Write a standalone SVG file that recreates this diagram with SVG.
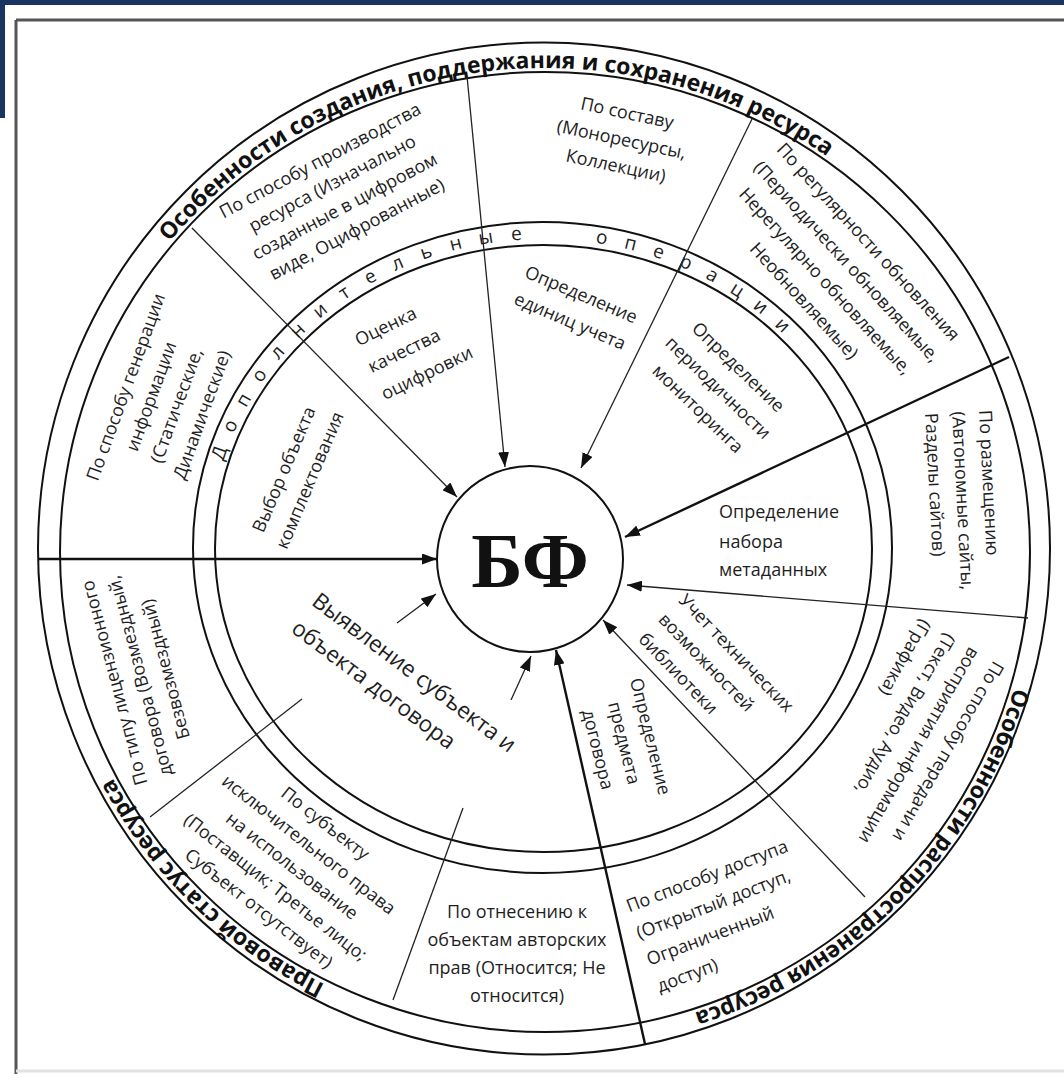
<svg xmlns="http://www.w3.org/2000/svg" width="1064" height="1074" viewBox="0 0 1064 1074">
<style>
.t{font-family:"Open Sans","Liberation Sans",sans-serif;font-size:18px;fill:#1e1e1e}
.c{text-anchor:middle}
.ttl{font-family:"Open Sans","Liberation Sans",sans-serif;font-size:23px;font-weight:700;fill:#111}
.rg{font-family:"Open Sans","Liberation Sans",sans-serif;font-size:19px;fill:#1e1e1e;text-anchor:middle}
.ln{fill:none;stroke:#111;stroke-width:2}
.cn{fill:none;stroke:#222;stroke-width:1.3}
.ck{fill:none;stroke:#111;stroke-width:2.4}
</style>
<defs>
<marker id="ah" markerUnits="userSpaceOnUse" markerWidth="15" markerHeight="11" refX="15" refY="5.5" orient="auto">
<path d="M0,0 L15,5.5 L0,11 z" fill="#111"/>
</marker>
<path id="p1" d="M132.6,291.9 A489,484 0 0 1 875.4,195.2"/>
<path id="p2" d="M1032.7,587.4 A489,484 0 0 1 594.4,1033.5"/>
<path id="p3" d="M422.6,1020.6 A489,484 0 0 1 73.8,681.3"/>
</defs>
<rect width="1064" height="1074" fill="#fff"/>
<g id="frame">
<rect x="0" y="0" width="1064" height="5" fill="#18345f"/>
<rect x="0" y="0" width="5" height="118" fill="#18345f"/>
<line x1="16" y1="20" x2="1064" y2="20" stroke="#555" stroke-width="3"/>
<line x1="16" y1="20" x2="16" y2="1074" stroke="#555" stroke-width="3"/>
<line x1="16" y1="1071" x2="1064" y2="1071" stroke="#e2e2e2" stroke-width="3"/>
</g>
<g id="rings">
<circle class="ln" cx="544" cy="548.5" r="506"/>
<ellipse class="ln" cx="545" cy="552" rx="485" ry="480"/>
<ellipse class="ln" cx="542.5" cy="547.5" rx="349.5" ry="325.5"/>
<ellipse class="ln" cx="543.5" cy="548.5" rx="328.5" ry="303.5"/>
</g>
<g id="titles">
<text class="ttl" text-anchor="middle"><textPath href="#p1" startOffset="50%">Особенности создания, поддержания и сохранения ресурса</textPath></text>
<text class="ttl" text-anchor="middle"><textPath href="#p2" startOffset="50%">Особенности распространения ресурса</textPath></text>
<text class="ttl" text-anchor="middle"><textPath href="#p3" startOffset="50%">Правовой статус ресурса</textPath></text>
</g>
<g id="ring-label">
<text class="rg" x="225.4" y="455.1" transform="rotate(-71.23 225.4 455.1)">Д</text>
<text class="rg" x="235.9" y="428.6" transform="rotate(-65.70 235.9 428.6)">о</text>
<text class="rg" x="248.9" y="403.1" transform="rotate(-60.23 248.9 403.1)">п</text>
<text class="rg" x="264.3" y="378.8" transform="rotate(-54.82 264.3 378.8)">о</text>
<text class="rg" x="282.1" y="356.0" transform="rotate(-49.47 282.1 356.0)">л</text>
<text class="rg" x="302.1" y="334.7" transform="rotate(-44.21 302.1 334.7)">н</text>
<text class="rg" x="324.0" y="315.3" transform="rotate(-39.02 324.0 315.3)">и</text>
<text class="rg" x="347.8" y="297.7" transform="rotate(-33.87 347.8 297.7)">т</text>
<text class="rg" x="373.2" y="282.2" transform="rotate(-28.81 373.2 282.2)">е</text>
<text class="rg" x="400.1" y="268.9" transform="rotate(-23.80 400.1 268.9)">л</text>
<text class="rg" x="428.1" y="258.0" transform="rotate(-18.84 428.1 258.0)">ь</text>
<text class="rg" x="457.1" y="249.5" transform="rotate(-13.93 457.1 249.5)">н</text>
<text class="rg" x="486.7" y="243.5" transform="rotate(-9.04 486.7 243.5)">ы</text>
<text class="rg" x="516.9" y="240.0" transform="rotate(-4.18 516.9 240.0)">е</text>
<text class="rg" x="600.8" y="243.7" transform="rotate(9.29 600.8 243.7)">о</text>
<text class="rg" x="629.2" y="249.5" transform="rotate(13.96 629.2 249.5)">п</text>
<text class="rg" x="656.9" y="257.6" transform="rotate(18.66 656.9 257.6)">е</text>
<text class="rg" x="683.7" y="268.0" transform="rotate(23.39 683.7 268.0)">р</text>
<text class="rg" x="709.5" y="280.4" transform="rotate(28.18 709.5 280.4)">а</text>
<text class="rg" x="734.0" y="294.9" transform="rotate(33.01 734.0 294.9)">ц</text>
<text class="rg" x="757.1" y="311.3" transform="rotate(37.91 757.1 311.3)">и</text>
<text class="rg" x="778.5" y="329.5" transform="rotate(42.86 778.5 329.5)">и</text>
</g>
<g id="connectors">
<line class="ck" x1="38" y1="559" x2="437" y2="559" marker-end="url(#ah)"/>
<line class="cn" x1="192" y1="228" x2="457" y2="497" marker-end="url(#ah)"/>
<line class="cn" x1="467" y1="76" x2="505" y2="467" marker-end="url(#ah)"/>
<line class="cn" x1="752" y1="119" x2="581" y2="468" marker-end="url(#ah)"/>
<line class="ck" x1="1009" y1="357" x2="625" y2="537" marker-end="url(#ah)"/>
<line class="cn" x1="1028" y1="618" x2="627" y2="585" marker-end="url(#ah)"/>
<line class="cn" x1="865" y1="897" x2="603" y2="620" marker-end="url(#ah)"/>
<line class="ck" x1="645" y1="1044" x2="556" y2="650" marker-end="url(#ah)"/>
<line class="cn" x1="511" y1="700" x2="531" y2="656" marker-end="url(#ah)"/>
<line class="cn" x1="397" y1="623" x2="436" y2="594" marker-end="url(#ah)"/>
<line class="cn" x1="150" y1="817" x2="302" y2="699"/>
<line class="cn" x1="393" y1="1000" x2="463" y2="808"/>
</g>
<g id="node-bf">
<circle class="ln" cx="530" cy="559" r="93"/>
<text x="530" y="587" text-anchor="middle" font-family="'Liberation Serif','DejaVu Serif',serif" font-size="78" font-weight="700" fill="#111">БФ</text>
</g>
<g id="node-proizvodstvo">
<text class="t c" transform="translate(338.5,195) rotate(-28)"><tspan x="0" y="-33">По способу производства</tspan><tspan x="0" y="-7">ресурса (Изначально</tspan><tspan x="0" y="19">созданные в цифровом</tspan><tspan x="0" y="45">виде, Оцифрованные)</tspan></text>
</g>
<g id="node-sostav">
<text class="t c" transform="translate(621.5,139.5) rotate(12)"><tspan x="0" y="-21">По составу</tspan><tspan x="0" y="6">(Моноресурсы,</tspan><tspan x="0" y="33">Коллекции)</tspan></text>
</g>
<g id="node-regulyarnost">
<text class="t c" transform="translate(836,271.5) rotate(47.5)"><tspan x="0" y="-37.5">По регулярности обновления</tspan><tspan x="0" y="-8.5">(Периодически обновляемые,</tspan><tspan x="0" y="20.5">Нерегулярно обновляемые,</tspan><tspan x="0" y="49.5">Необновляемые)</tspan></text>
</g>
<g id="node-generaciya">
<text class="t c" transform="translate(164,401) rotate(-70)"><tspan x="0" y="-34.5">По способу генерации</tspan><tspan x="0" y="-7.5">информации</tspan><tspan x="0" y="19.5">(Статические,</tspan><tspan x="0" y="46.5">Динамические)</tspan></text>
</g>
<g id="node-licenziya">
<text class="t c" transform="translate(140,676) rotate(-105)"><tspan x="0" y="-20.5">По типу лицензионного</tspan><tspan x="0" y="6">договора (Возмездный,</tspan><tspan x="0" y="32.5">Безвозмездный)</tspan></text>
</g>
<g id="node-subekt-prava">
<text class="t c" transform="translate(292,866) rotate(38)"><tspan x="0" y="-48">По субъекту</tspan><tspan x="0" y="-21">исключительного права</tspan><tspan x="0" y="6">на использование</tspan><tspan x="0" y="33">(Поставщик; Третье лицо;</tspan><tspan x="0" y="60">Субъект отсутствует)</tspan></text>
</g>
<g id="node-avtorskie">
<text class="t c"><tspan x="517" y="918">По отнесению к</tspan><tspan x="517" y="946">объектам авторских</tspan><tspan x="517" y="974">прав (Относится; Не</tspan><tspan x="517" y="1002">относится)</tspan></text>
</g>
<g id="node-dostup">
<text class="t" transform="translate(627,907) rotate(-21)"><tspan x="0" y="6">По способу доступа</tspan><tspan x="0" y="34.5">(Открытый доступ,</tspan><tspan x="0" y="63">Ограниченный</tspan><tspan x="0" y="91.5">доступ)</tspan></text>
</g>
<g id="node-predmet">
<text class="t c" transform="translate(624,743) rotate(76)"><tspan x="0" y="-21">Определение</tspan><tspan x="0" y="6">предмета</tspan><tspan x="0" y="33">договора</tspan></text>
</g>
<g id="node-tehnicheskie">
<text class="t" transform="translate(682,597) rotate(46)"><tspan x="0" y="6">Учет технических</tspan><tspan x="0" y="34">возможностей</tspan><tspan x="0" y="62">библиотеки</tspan></text>
</g>
<g id="node-metadannye">
<text class="t"><tspan x="719" y="518">Определение</tspan><tspan x="719" y="548">набора</tspan><tspan x="719" y="576">метаданных</tspan></text>
</g>
<g id="node-razmeshchenie">
<text class="t" transform="translate(985,410) rotate(87)"><tspan x="0" y="6">По размещению</tspan><tspan x="0" y="33">(Автономные сайты,</tspan><tspan x="0" y="60">Разделы сайтов)</tspan></text>
</g>
<g id="node-peredacha">
<text class="t" transform="translate(999,663) rotate(120)"><tspan x="0" y="6">По способу передачи и</tspan><tspan x="0" y="34">восприятия информации</tspan><tspan x="0" y="62">(Текст, Видео, Аудио,</tspan><tspan x="0" y="90">(Графика)</tspan></text>
</g>
<g id="node-monitoring">
<text class="t c" transform="translate(718,388) rotate(44)"><tspan x="0" y="-23">Определение</tspan><tspan x="0" y="6">периодичности</tspan><tspan x="0" y="35">мониторинга</tspan></text>
</g>
<g id="node-edinicy">
<text class="t c" transform="translate(575.5,308) rotate(23)"><tspan x="0" y="-8.5">Определение</tspan><tspan x="0" y="20.5">единиц учета</tspan></text>
</g>
<g id="node-ocenka">
<text class="t" transform="translate(356,341) rotate(-26)"><tspan x="0" y="6">Оценка</tspan><tspan x="0" y="36">качества</tspan><tspan x="0" y="66">оцифровки</tspan></text>
</g>
<g id="node-vybor">
<text class="t c" transform="translate(297,475) rotate(-67)"><tspan x="0" y="-8">Выбор объекта</tspan><tspan x="0" y="20">комплектования</tspan></text>
</g>
<g id="node-vyyavlenie">
<text class="t" transform="translate(315,598) rotate(37)" style="font-size:22.5px"><tspan x="0" y="7.5">Выявление субъекта и</tspan><tspan x="0" y="41.5">объекта договора</tspan></text>
</g>
</svg>
